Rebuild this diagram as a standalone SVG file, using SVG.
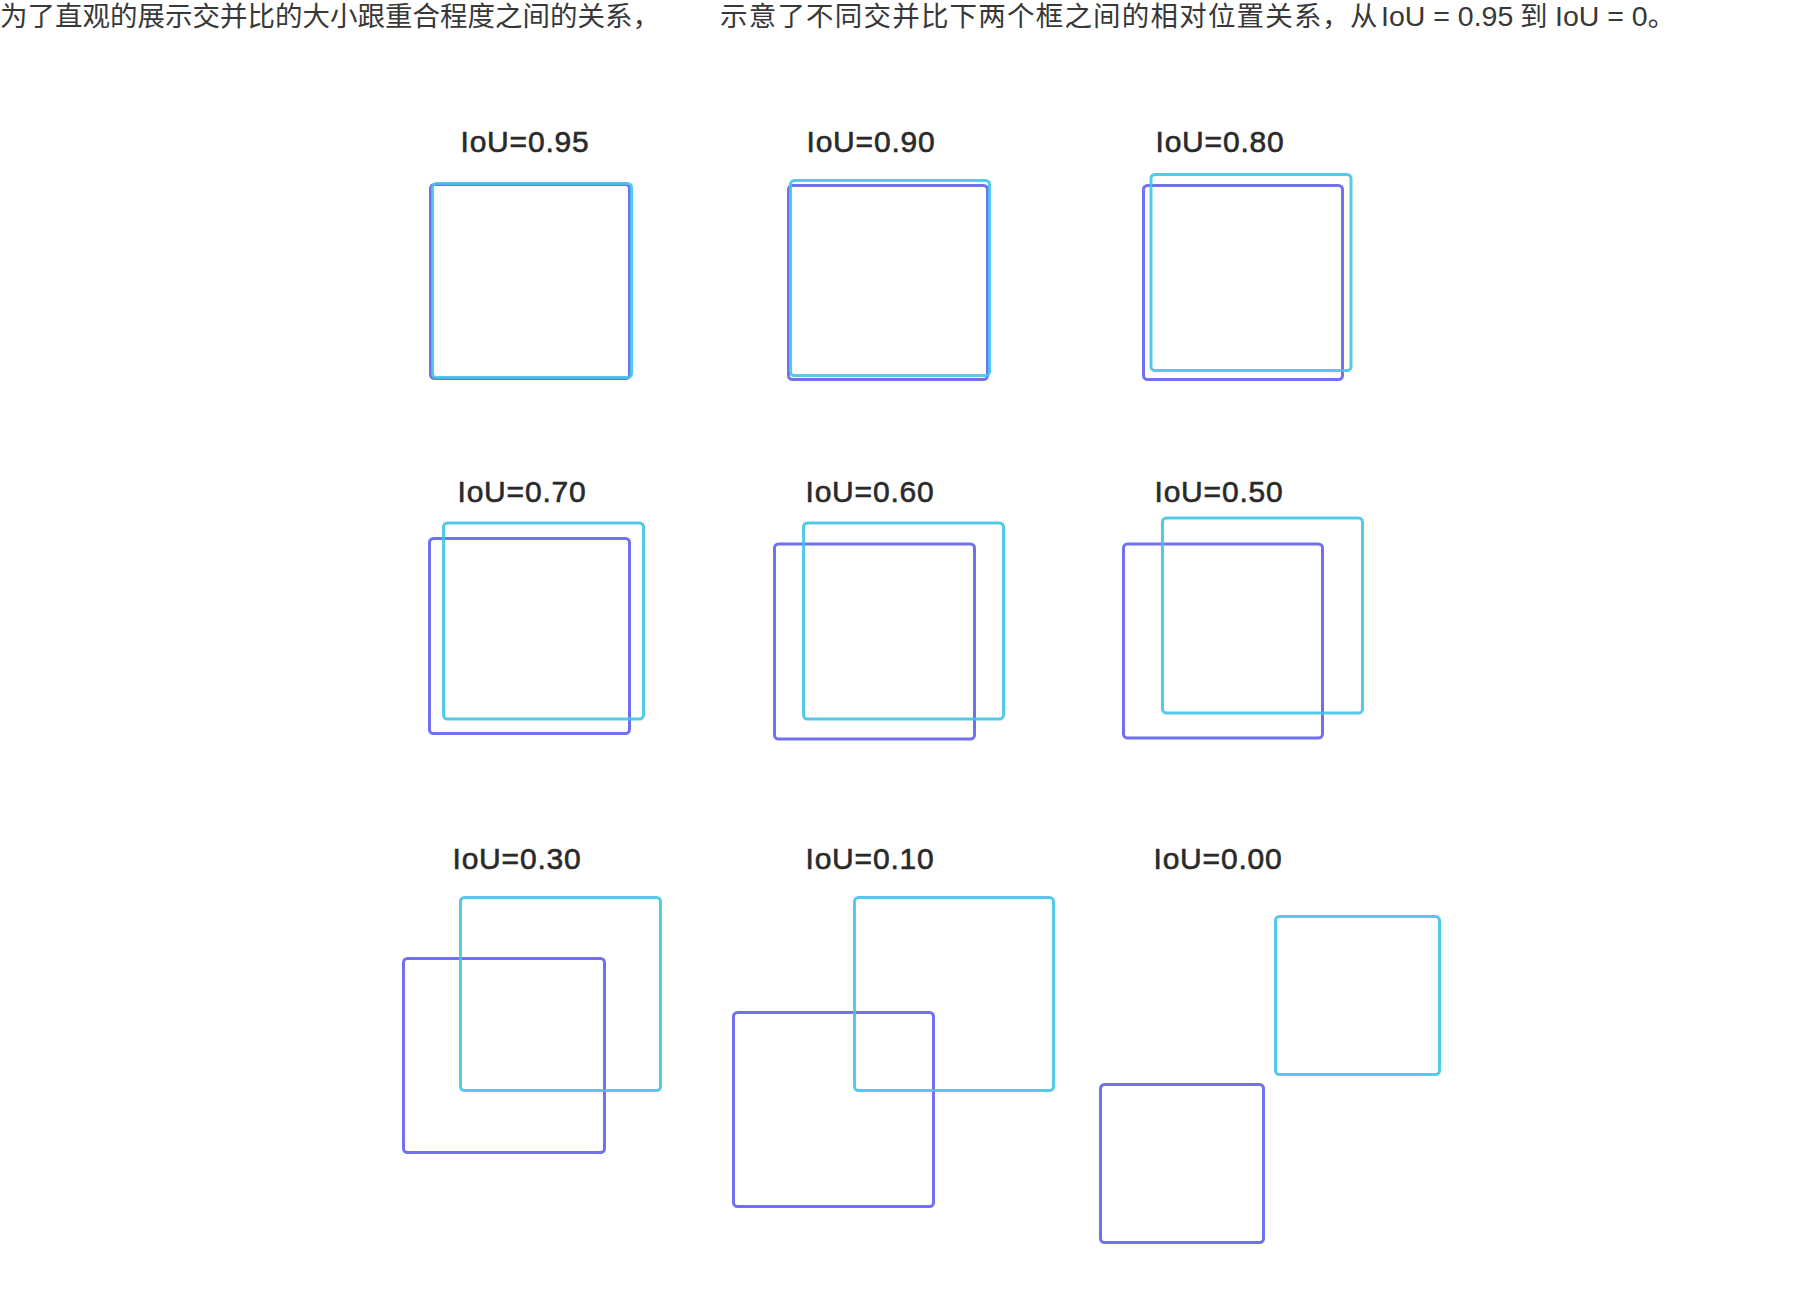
<svg xmlns="http://www.w3.org/2000/svg" width="1804" height="1306" viewBox="0 0 1804 1306">
<style>
.cap{font-family:"Liberation Sans","Noto Sans CJK SC",sans-serif;font-size:27.5px;fill:#383838}
.lbl{font-family:"Liberation Sans",Arial,sans-serif;font-size:30px;fill:#2a2a2a;stroke:#2a2a2a;stroke-width:0.6;text-anchor:middle;letter-spacing:0.8px}
.b{fill:none;stroke:#5c5cee;stroke-width:3;stroke-opacity:0.88}
.c{fill:none;stroke:#42c3ea;stroke-width:3;stroke-opacity:0.9}
</style>
<rect width="1804" height="1306" fill="#ffffff"/>
<g id="caption">
<text class="cap" x="0" y="26">为了直观的展示交并比的大小跟重合程度之间的关系，</text>
<text class="cap" y="26"><tspan x="720" letter-spacing="1.2">示意了不同交并比下两个框之间的相对位置关系</tspan><tspan x="1322" letter-spacing="0">，</tspan><tspan x="1350" letter-spacing="0">从</tspan><tspan x="1381" font-size="28.5" letter-spacing="0">IoU = 0.95</tspan><tspan x="1520" letter-spacing="0">到</tspan><tspan x="1555" font-size="28.5" letter-spacing="0">IoU = 0</tspan><tspan letter-spacing="0">。</tspan></text>
</g>
<g id="iou095">
<text class="lbl" x="525" y="152">IoU=0.95</text>
<rect class="b" x="430.5" y="184.5" width="199" height="194" rx="4"/>
<rect class="c" x="432.5" y="183.5" width="199" height="194" rx="4"/>
</g>
<g id="iou090">
<text class="lbl" x="871" y="152">IoU=0.90</text>
<rect class="b" x="788.5" y="185.5" width="199" height="194" rx="4"/>
<rect class="c" x="790.5" y="180.5" width="199" height="195" rx="4"/>
</g>
<g id="iou080">
<text class="lbl" x="1220" y="152">IoU=0.80</text>
<rect class="b" x="1143.5" y="185.5" width="199" height="194" rx="4"/>
<rect class="c" x="1151" y="174.5" width="200" height="196" rx="4"/>
</g>
<g id="iou070">
<text class="lbl" x="522" y="502">IoU=0.70</text>
<rect class="b" x="429.5" y="538.5" width="200" height="195" rx="4"/>
<rect class="c" x="443.5" y="523" width="200" height="196" rx="4"/>
</g>
<g id="iou060">
<text class="lbl" x="870" y="502">IoU=0.60</text>
<rect class="b" x="774.5" y="544" width="200" height="195" rx="4"/>
<rect class="c" x="803.5" y="523" width="200" height="196" rx="4"/>
</g>
<g id="iou050">
<text class="lbl" x="1219" y="502">IoU=0.50</text>
<rect class="b" x="1123.5" y="544" width="199" height="194" rx="4"/>
<rect class="c" x="1162.5" y="518" width="200" height="195" rx="4"/>
</g>
<g id="iou030">
<text class="lbl" x="517" y="869">IoU=0.30</text>
<rect class="b" x="403.5" y="958.5" width="201" height="194" rx="4"/>
<rect class="c" x="460.5" y="897.5" width="200" height="193" rx="4"/>
</g>
<g id="iou010">
<text class="lbl" x="870" y="869">IoU=0.10</text>
<rect class="b" x="733.5" y="1012.5" width="200" height="194" rx="4"/>
<rect class="c" x="854.5" y="897.5" width="199" height="193" rx="4"/>
</g>
<g id="iou000">
<text class="lbl" x="1218" y="869">IoU=0.00</text>
<rect class="b" x="1100.5" y="1084.5" width="163" height="158" rx="4"/>
<rect class="c" x="1275.5" y="916.5" width="164" height="158" rx="4"/>
</g>
<g id="connectors"/>
</svg>
